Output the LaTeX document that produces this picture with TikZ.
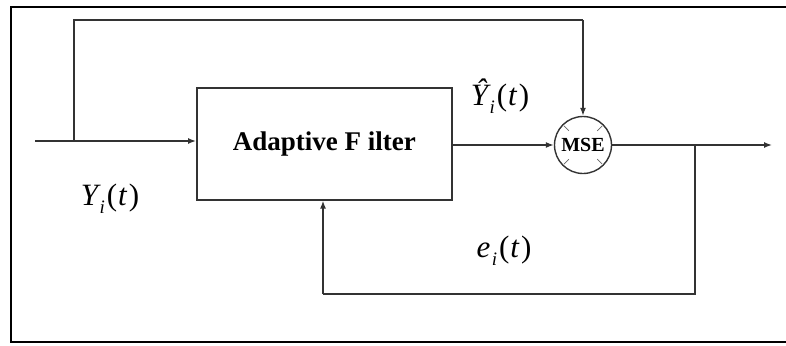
\documentclass[tikz,border=0pt]{standalone}
\usepackage{fontspec}
\setmainfont{Liberation Serif}
\usetikzlibrary{arrows.meta,calc}
\newcommand{\sbi}{\hspace{1.5pt}\raisebox{-0.55ex}{\fontsize{19}{19}\selectfont i}\hspace{2pt}}
\newcommand{\prt}{{\upshape(}\hspace{1pt}t\hspace{2pt}{\upshape)}}
\begin{document}
\begin{tikzpicture}[x=1pt,y=-1pt,
  wire/.style={line width=1.4pt,draw=black!80},
  arr/.style={wire,-{Latex[length=8pt,width=6pt]}},
  lbl/.style={font=\fontsize{31}{33}\selectfont\itshape,inner sep=0pt}]
\useasboundingbox (0,0) rectangle (786,345);
\draw[line width=2pt] (11,7) rectangle (800,342);
\node[wire,line width=1.6pt,draw,minimum width=255pt,minimum height=112pt,anchor=north west,inner sep=0pt,font=\fontsize{27}{29}\selectfont\bfseries] (af) at (196,87) {Adaptive F ilter};
\node[wire,draw,circle,minimum size=57pt,inner sep=0pt,font=\fontsize{20}{22}\selectfont\bfseries] (mse) at (583,145) {MSE};
\foreach \a in {45,135,225,315}
  \draw[wire,line width=0.7pt,draw=black!60] ($(mse)+(\a:20pt)$) -- ($(mse)+(\a:27pt)$);
\coordinate (in) at (35,141);
\coordinate (split) at (74,141);
\coordinate (tl) at (74,20);
\coordinate (tr) at (583,20);
\coordinate (out) at (772,145);
\coordinate (fb) at (695,145);
\coordinate (fbr) at (695,294);
\coordinate (fbl) at (323,294);
\draw[arr] (in) -- (af.west |- in);
\draw[wire] (split) -- (tl) -- (tr);
\draw[arr] (tr) -- (mse.north);
\draw[arr] (af.east |- mse) -- (mse.west);
\draw[arr] (mse.east) -- (out);
\draw[wire] (fb) -- (fbr) -- (fbl);
\draw[arr] (fbl) -- (fbl |- af.south);
\node[lbl] (y) at (110,199) {Y\sbi\prt};
\node[lbl] (yh) at (500,96) {Ŷ\sbi\prt};
\node[lbl] (e) at (504,251) {e\sbi\prt};
\end{tikzpicture}
\end{document}
